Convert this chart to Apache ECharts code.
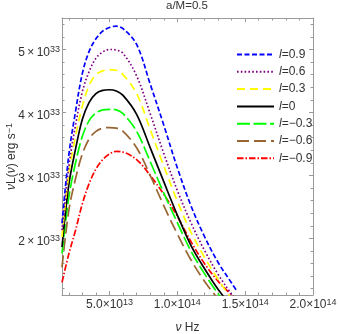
<!DOCTYPE html>
<html>
<head>
<meta charset="utf-8">
<script src="https://cdn.jsdelivr.net/npm/echarts@6/dist/echarts.min.js"></script>
<style>html,body{margin:0;padding:0;background:#fff}#c{width:338px;height:334px}</style>
</head>
<body>
<div id="c"></div>
<script>
// frequency nu in units of 1e13 Hz
const nu = [1.5, 2, 2.5, 3, 3.5, 4, 4.5, 5, 5.5, 6, 7, 8, 9, 10, 11, 12, 13, 14, 14.4];
// nuL(nu) in units of 1e33 erg/s
const l_p09  = [2.24, 3.32, 4.02, 4.62, 4.97, 5.17, 5.29, 5.35, 5.37, 5.33, 5.08, 4.45, 3.80, 3.12, 2.52, 2.03, 1.62, 1.29, 1.16];
const l_p06  = [2.13, 3.14, 3.80, 4.33, 4.65, 4.86, 4.96, 5.00, 4.99, 4.94, 4.58, 3.98, 3.35, 2.76, 2.25, 1.81, 1.43, 1.11, 1.00];
const l_p03  = [2.02, 3.03, 3.62, 4.10, 4.43, 4.60, 4.66, 4.68, 4.67, 4.60, 4.30, 3.73, 3.15, 2.59, 2.10, 1.70, 1.35, 1.04, 0.95];
const l_0    = [1.86, 2.85, 3.42, 3.89, 4.16, 4.30, 4.35, 4.36, 4.34, 4.27, 3.97, 3.44, 2.90, 2.37, 1.89, 1.52, 1.19, 0.92, 0.82];
const l_m03  = [1.76, 2.65, 3.20, 3.62, 3.87, 3.99, 4.04, 4.05, 4.04, 3.98, 3.70, 3.22, 2.72, 2.25, 1.80, 1.44, 1.12, 0.86, 0.77];
const l_m06  = [1.54, 2.44, 2.95, 3.34, 3.58, 3.70, 3.75, 3.76, 3.75, 3.70, 3.44, 3.00, 2.52, 2.07, 1.66, 1.32, 1.04, 0.80, 0.72];
const l_m09  = [1.30, 1.75, 2.13, 2.55, 2.87, 3.10, 3.25, 3.34, 3.38, 3.37, 3.25, 3.00, 2.70, 2.35, 1.95, 1.60, 1.32, 1.10, 1.02];

const seriesNames = ['l=0.9', 'l=0.6', 'l=0.3', 'l=0', 'l=\u22120.3', 'l=\u22120.6', 'l=\u22120.9'];
const seriesValues = [l_p09, l_p06, l_p03, l_0, l_m03, l_m06, l_m09];

const xTickValues = [5, 10, 15, 20];
const xTickLabels = [['5.0', '13'], ['1.0', '14'], ['1.5', '14'], ['2.0', '14']];
const yTickValues = [2, 3, 4, 5];
const yTickLabels = [['2', '33'], ['3', '33'], ['4', '33'], ['5', '33']];
const xMinorTicks = [2,3,4,6,7,8,9,11,12,13,14,16,17,18,19];
const yMinorTicks = [1.2,1.4,1.6,1.8,2.2,2.4,2.6,2.8,3.2,3.4,3.6,3.8,4.2,4.4,4.6,4.8,5.2,5.4];

const colors = ['#0000ff', '#800080', '#ffff00', '#000000', '#00ff00', '#996633', '#ff0000'];
const dashes = [[5, 2.5], [1.6, 2.2], [8, 5], 'solid', [13, 3.5], [12, 5], [6.5, 2, 1.5, 2]];

const FONT = '"Liberation Sans", Arial, sans-serif';
const TXT = '#333';
const AX = '#9a9a9a';
const X0 = 1.5, X1 = 20, Y0 = 1.1, Y1 = 5.5;

const rich = {
  b: {fontSize: 12, fontFamily: FONT, color: TXT, lineHeight: 14},
  s: {fontSize: 9, fontFamily: FONT, color: TXT, verticalAlign: 'top', lineHeight: 14, padding: [0, 0, 5, 0]},
  i: {fontSize: 12, fontFamily: FONT, color: TXT, fontStyle: 'italic', lineHeight: 14}
};
const S = '\u2009';

function xAx(pos, major, labels) {
  return {
    type: 'value', position: pos, min: X0, max: X1,
    axisLine: {show: major, lineStyle: {color: AX, width: 1}},
    splitLine: {show: false},
    axisTick: {show: true, inside: true, length: major ? 4 : 2.5, customValues: major ? xTickValues : xMinorTicks, lineStyle: {color: AX}},
    axisLabel: labels ? {show: true, margin: 3, customValues: xTickValues, rich: rich,
      formatter: v => { const k = xTickValues.indexOf(v); return k < 0 ? '' : '{b|' + xTickLabels[k][0] + '\u00d710}{s|' + xTickLabels[k][1] + '}'; }} : {show: false},
    name: labels ? '{i|\u03bd} {b|Hz}' : '',
    nameLocation: 'middle', nameGap: 26, nameMoveOverlap: false,
    nameTextStyle: {rich: rich}
  };
}
function yAx(pos, major, labels) {
  return {
    type: 'value', position: pos, min: Y0, max: Y1,
    axisLine: {show: major, lineStyle: {color: AX, width: 1}},
    splitLine: {show: false},
    axisTick: {show: true, inside: true, length: major ? 4 : 2.5, customValues: major ? yTickValues : yMinorTicks, lineStyle: {color: AX}},
    axisLabel: labels ? {show: true, margin: 2, customValues: yTickValues, rich: rich, padding: [6, 0, 0, 0],
      formatter: v => { const k = yTickValues.indexOf(v); return k < 0 ? '' : '{b|' + yTickLabels[k][0] + S + '\u00d7' + S + '10}{s|' + yTickLabels[k][1] + '}'; }} : {show: false},
    name: labels ? '{i|\u03bd}{b|L(}{i|\u03bd}{b|) erg s}{s|\u22121}' : '',
    nameLocation: 'middle', nameGap: 43, nameMoveOverlap: false,
    nameTextStyle: {rich: rich}
  };
}

const series = seriesNames.map((n, i) => ({
  name: n, type: 'line', xAxisIndex: 0, yAxisIndex: 0,
  data: nu.map((x, j) => [x, seriesValues[i][j]]),
  smooth: 0.35, symbol: 'none', showSymbol: false, clip: true,
  lineStyle: {color: colors[i], width: 1.7, type: dashes[i], cap: 'butt'},
  itemStyle: {color: colors[i]},
  z: 10 - i
}));

const chart = echarts.init(document.getElementById('c'), null, {renderer: 'canvas'});
chart.setOption({
  animation: false,
  backgroundColor: '#fff',
  title: {text: 'a/M=0.5', left: 166, top: 0, padding: 0, textStyle: {fontSize: 11.5, fontWeight: 'normal', color: TXT, fontFamily: FONT}},
  grid: {left: 62, right: 25, top: 18, bottom: 39, containLabel: false, outerBoundsMode: 'none'},
  xAxis: [xAx('bottom', true, true), xAx('bottom', false, false), xAx('top', true, false), xAx('top', false, false)],
  yAxis: [yAx('left', true, true), yAx('left', false, false), yAx('right', true, false), yAx('right', false, false)],
  legend: {
    orient: 'vertical', left: 236, top: 48.5, padding: 0,
    itemWidth: 37, itemHeight: 14, itemGap: 5.3,
    data: seriesNames,
    itemStyle: {opacity: 0},
    formatter: n => '{i|l}{b|' + n.slice(1) + '}',
    textStyle: {rich: rich, color: TXT}
  },
  series: series
});
</script>
</body>
</html>
